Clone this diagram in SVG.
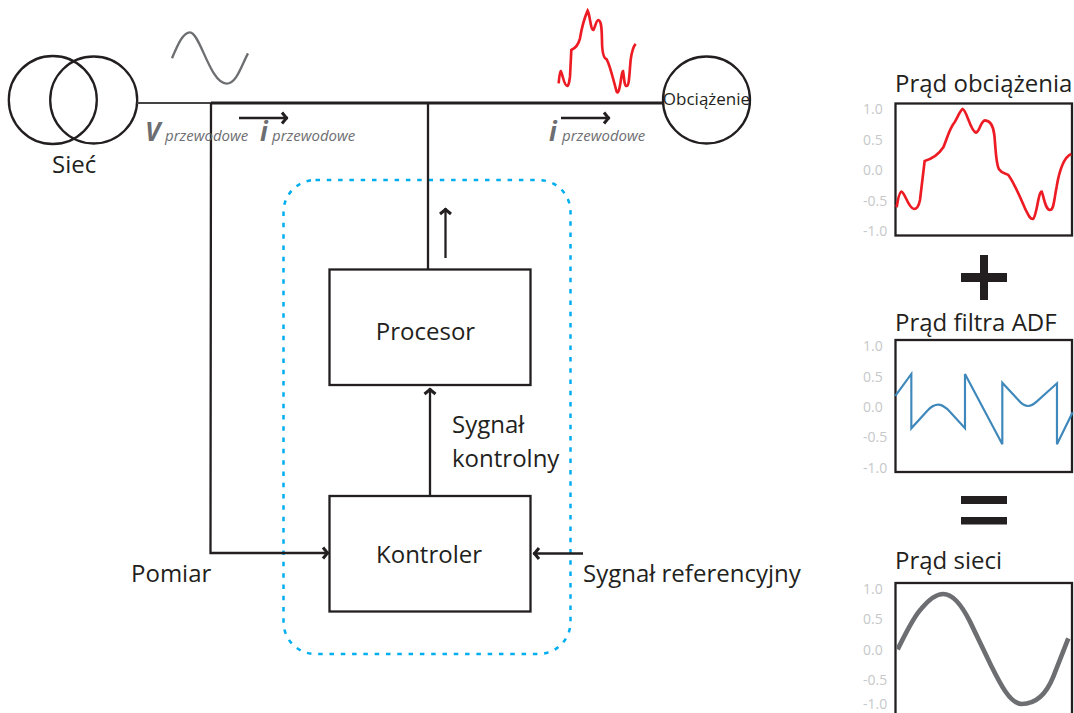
<svg xmlns="http://www.w3.org/2000/svg" width="1074" height="713" viewBox="0 0 1074 713">
<style>
text{font-family:"Open Sans","Noto Sans",sans-serif;fill:#231f20}
.n{fill:none;stroke:#231f20;stroke-width:2.300}
.lbl{font-size:24px}
.tick{font-size:14px;fill:#c6c8ca}
.title{font-size:24px}
.v{font-size:26px;font-weight:700;font-style:italic;fill:#6d6e71}
.sub{font-size:15px;font-style:italic;fill:#6d6e71}
.c{fill:none;stroke:#231f20;stroke-width:2.300}
.frame{fill:#fff;stroke:#231f20;stroke-width:2.300}
</style>
<defs>
<marker id="a" markerUnits="userSpaceOnUse" markerWidth="14" markerHeight="16" refX="11" refY="8" orient="auto">
<path d="M5,2.500 L9.500,8 L5,13.500" fill="none" stroke="#231f20" stroke-width="3"/>
</marker>
</defs>
<g id="source">
<circle class="n" cx="52.800" cy="100" r="44"/>
<circle class="n" cx="93.700" cy="100" r="43.500"/>
<text class="lbl" x="52" y="173">Sieć</text>
</g>
<g id="load">
<circle class="n" cx="706.500" cy="100" r="43.500"/>
<text x="706.500" y="105" font-size="17" text-anchor="middle">Obciążenie</text>
</g>
<g id="processor">
<rect class="n" x="329.500" y="269.500" width="201" height="115.500"/>
<text class="lbl" x="425.500" y="340" text-anchor="middle">Procesor</text>
</g>
<g id="controller">
<rect class="n" x="329.500" y="496" width="201" height="115.500"/>
<text class="lbl" x="429" y="563" text-anchor="middle">Kontroler</text>
</g>
<g id="boundary">
<rect x="283.500" y="180" width="287" height="474" rx="32" ry="32" fill="none" stroke="#00aeef" stroke-width="2.500" stroke-dasharray="4.500 6.800"/>
</g>
<g id="connectors">
<path d="M137,103 H211" fill="none" stroke="#444" stroke-width="2"/>
<path d="M211,103 H663" fill="none" stroke="#231f20" stroke-width="3"/>
<path class="c" d="M211,103 L210.500,553 H329" marker-end="url(#a)"/>
<path class="c" d="M428,103 V269"/>
<path class="c" d="M445.500,258 V208" marker-end="url(#a)"/>
<path class="c" d="M430,496 V388" marker-end="url(#a)"/>
<path class="c" d="M583,553.500 H533" marker-end="url(#a)"/>
<path class="c" d="M239,118 H288" marker-end="url(#a)"/>
<path class="c" d="M561,118 H610" marker-end="url(#a)"/>
</g>
<g id="wave-labels">
<text class="v" x="145" y="141">V</text>
<text class="sub" x="165" y="141">przewodowe</text>
<text class="v" x="260" y="141">i</text>
<text class="sub" x="272" y="141">przewodowe</text>
<text class="v" x="549" y="141">i</text>
<text class="sub" x="562" y="141">przewodowe</text>
<path transform="scale(.3333)" fill="none" stroke="#6d6e71" stroke-width="7" d="M516,175 C535,130 550,97 570,97 C600,97 630,250 680,251 C710,251 725,195 744,160"/>
<path transform="translate(500,0) scale(.3333)" fill="none" stroke="#ed1c24" stroke-width="8" d="M176,250 C178,225 180,213 182,213 C188,222 192,258 202,258 C208,255 208,240 210,230 L214,150 C225,145 235,135 240,115 C245,85 255,50 263,32 C270,45 272,90 280,90 C285,85 288,60 295,60 C305,62 305,90 306,120 C306,160 312,175 320,178 C330,195 340,240 350,275 C355,282 358,270 362,245 C365,225 367,213 369,213 C372,225 372,258 380,258 C388,258 388,220 392,180 C396,150 400,140 407,132"/>
</g>
<g id="text-labels">
<text class="lbl" x="452" y="433">Sygnał</text>
<text class="lbl" x="452" y="467">kontrolny</text>
<text class="lbl" x="131" y="582">Pomiar</text>
<text class="lbl" x="583" y="582">Sygnał referencyjny</text>
</g>
<g id="chart-load">
<text class="title" x="895" y="92">Prąd obciążenia</text>
<rect class="frame" x="895.500" y="103.500" width="176.500" height="132"/>
<text class="tick" x="863" y="114">1.0</text><text class="tick" x="863" y="145">0.5</text><text class="tick" x="863" y="175">0.0</text><text class="tick" x="863" y="206">-0.5</text><text class="tick" x="863" y="236">-1.0</text>
<path transform="translate(850,60) scale(.3333)" fill="none" stroke="#ed1c24" stroke-width="8" d="M140,442 C145,410 150,395 155,395 C165,398 175,445 192,447 C205,447 208,430 210,420 L224,303 C245,297 265,285 280,262 C290,240 295,215 310,192 C320,180 330,150 338,147 C350,150 362,215 378,218 C390,215 392,182 405,181 C420,182 430,195 433,225 C437,260 437,310 447,328 C455,340 465,340 475,345 C490,365 510,410 525,445 C535,465 540,478 549,477 C560,470 565,395 575,395 C582,410 585,448 600,450 C612,450 612,420 620,380 C630,320 645,290 664,282"/>
</g>
<g id="plus"><path fill="#231f20" d="M980,255 H988 V273 H1007 V282 H988 V300 H980 V282 H961 V273 H980 Z"/></g>
<g id="chart-filter">
<text class="title" x="895" y="331">Prąd filtra ADF</text>
<rect class="frame" x="895.500" y="340" width="176.500" height="132"/>
<text class="tick" x="863" y="351">1.0</text><text class="tick" x="863" y="382">0.5</text><text class="tick" x="863" y="412">0.0</text><text class="tick" x="863" y="442">-0.5</text><text class="tick" x="863" y="473">-1.0</text>
<path transform="translate(850,250) scale(.3333)" fill="none" stroke="#3f88bb" stroke-width="6.500" d="M136,438 L184,372 L184,535 L232,482 C245,468 255,464 265,464 C278,464 285,472 295,480 L345,535 L345,372 L457,583 L457,398 L505,450 C515,462 525,468 535,468 C545,468 552,462 560,455 L621,400 L621,583 L668,487"/>
</g>
<g id="equals"><path fill="#231f20" d="M961,496 H1007 V504 H961 Z M961,517 H1007 V524.500 H961 Z"/></g>
<g id="chart-grid">
<text class="title" x="895" y="569">Prąd sieci</text>
<rect class="frame" x="895.500" y="583" width="176.500" height="140"/>
<text class="tick" x="863" y="594">1.0</text><text class="tick" x="863" y="624">0.5</text><text class="tick" x="863" y="655">0.0</text><text class="tick" x="863" y="685">-0.5</text><text class="tick" x="863" y="709">-1.0</text>
<path transform="translate(850,480) scale(.3333)" fill="none" stroke="#6d6e71" stroke-width="14" d="M143,508 C165,465 190,410 215,385 C240,355 260,342 280,342 C310,342 335,375 360,425 L420,550 C450,610 480,672 515,672 C560,672 590,640 610,590 L655,475"/>
</g>
</svg>
